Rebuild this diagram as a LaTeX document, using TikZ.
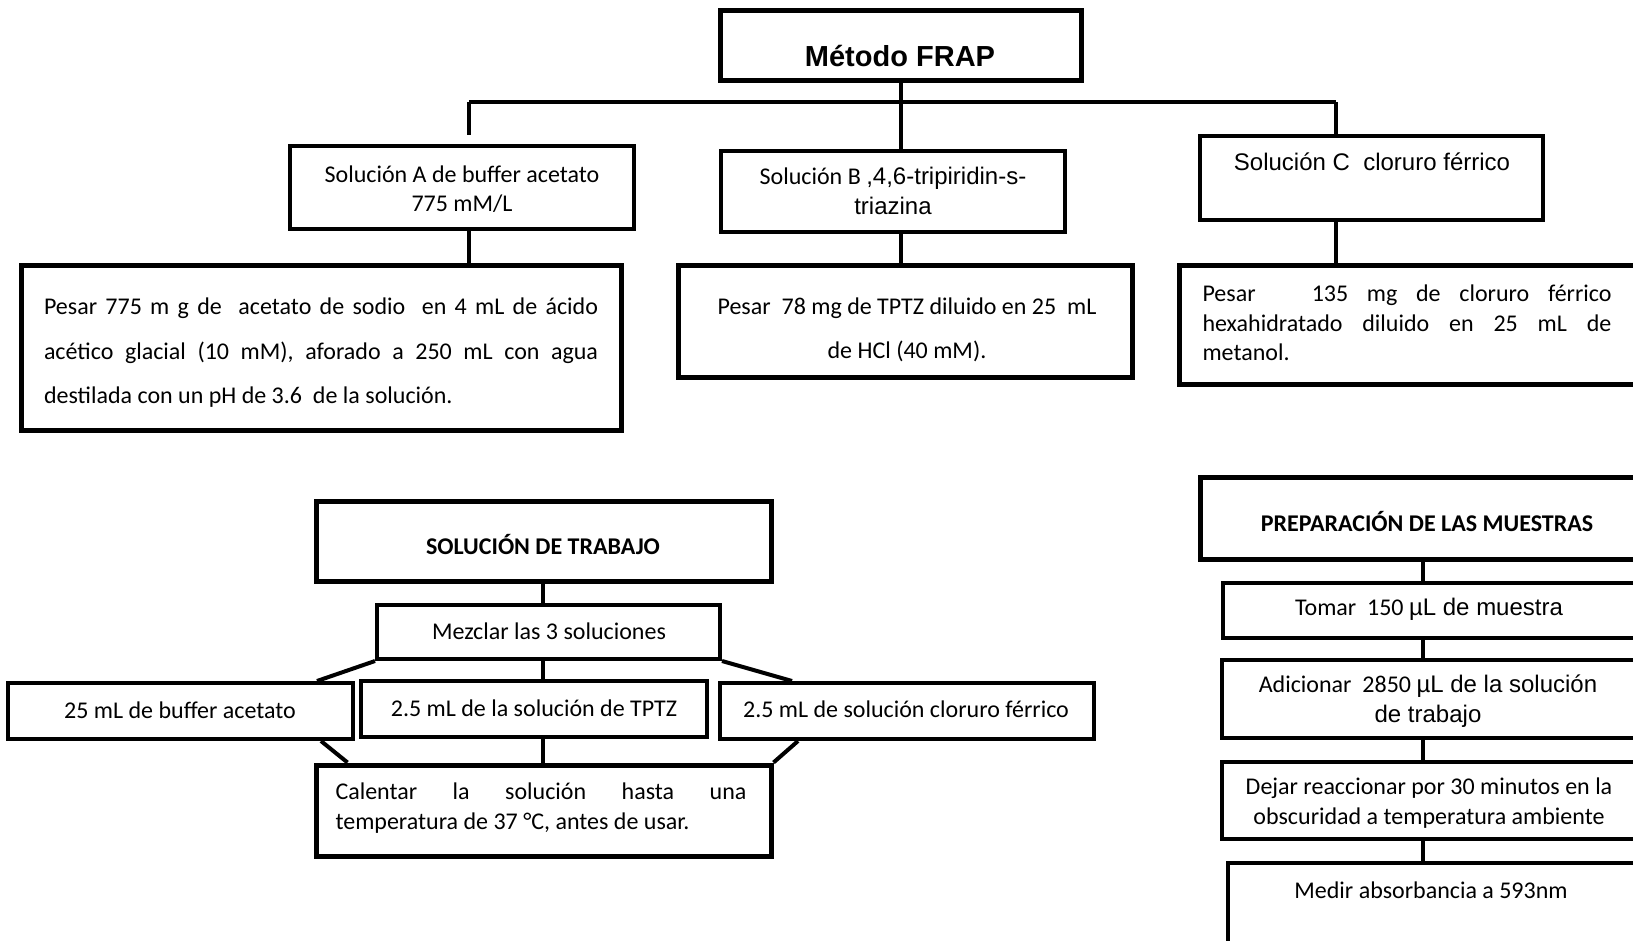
\documentclass[tikz,border=0pt]{standalone}
\usepackage{fontspec}
\setmainfont{Carlito}
\newfontfamily\arialf{Liberation Sans}
\usetikzlibrary{calc}

% an empty framed box given by its corner coordinates and frame width
\newcommand\mkbox[6]{%
  \node[frame=#6, minimum width={#4-#2}, minimum height={#5-#3}]
    (#1) at ({(#2+#4)/2},{(#3+#5)/2}) {};}

\begin{document}
\begin{tikzpicture}[x=1pt,y=-1pt,
  frame/.style={draw, line width=#1, inner sep=0pt, fill=white},
  link/.style={line width=4pt},
  txt/.style={inner sep=0pt, font=\fontsize{24}{29.3}\selectfont},
  atxt/.style={inner sep=0pt, font=\arialf\fontsize{24}{27.6}\selectfont},
  para/.style={txt, text width=#1, align=justify},
]
\clip (0,0) rectangle (1633,940);
\fill[white] (0,0) rectangle (1633,940);

% ---------- upper tree ----------
\coordinate (busL) at (469,102);
\coordinate (busR) at (1336,102);
\coordinate (stubA) at (469,135);

\mkbox{frap}{720}{10}{1081}{80}{5pt}
\mkbox{solA}{290}{146}{634}{229}{3.5pt}
\mkbox{solB}{721}{151}{1065}{232}{3.5pt}
\mkbox{solC}{1200}{136}{1543}{220}{3.5pt}
\mkbox{pesA}{21}{265}{621}{430}{5pt}
\mkbox{pesB}{678}{265}{1132}{377}{5pt}
\mkbox{pesC}{1179}{265}{1645}{384}{5pt}

\draw[link] (frap.south) -- (frap.south |- busL);
\draw[link] (busL) -- (busR);
\draw[link] (busL) -- (stubA);
\draw[link] (busR) -- (solC.north -| busR);
\draw[link] (frap.south |- busL) -- (solB.north -| frap.south);
\draw[link] (solA.south -| busL) -- (pesA.north -| busL);
\draw[link] (solB.south -| frap.south) -- (pesB.north -| frap.south);
\draw[link] (solC.south -| busR) -- (pesC.north -| busR);

\node[inner sep=0pt, font=\arialf\bfseries\fontsize{29}{33}\selectfont] (tfrap) at (900,56) {Método FRAP};
\node[txt, align=center] (tsolA) at (462,189) {Solución A de buffer acetato\\775 mM/L};
\node[txt, align=center] (tsolB) at (893,191) {Solución B {\arialf,4,6-tripiridin-s-}\\{\arialf triazina}};
\node[atxt] (tsolC) at (1372,162) {Solución C\ \ cloruro férrico};
\node[para=554pt, font=\fontsize{24}{44.5}\selectfont] (tpesA) at (321,353)
  {Pesar 775 m g de\ \ acetato de sodio\ \ en 4 mL de ácido\linebreak
   acético glacial (10 mM), aforado a 250 mL con agua\linebreak
   destilada con un pH de 3.6\ \ de la solución.};
\node[txt, align=center, font=\fontsize{24}{44.5}\selectfont] (tpesB) at (907,330)
  {Pesar\ \ 78 mg de TPTZ diluido en 25\ \ mL\\de HCl (40 mM).};
\node[para=409pt] (tpesC) at (1407,323)
  {Pesar\ \ \ 135 mg de cloruro férrico\linebreak
   hexahidratado diluido en 25 mL de\linebreak metanol.};

% ---------- working solution ----------
\mkbox{trab}{316}{501}{771}{581}{5pt}
\mkbox{mez}{377}{605}{720}{659}{4pt}
\mkbox{bA}{8}{683}{353}{739}{4pt}
\mkbox{bT}{361}{681}{707}{737}{4pt}
\mkbox{bC}{720}{683}{1094}{739}{4pt}
\mkbox{cal}{316}{765}{771}{856}{5pt}

\draw[link] (trab.south -| 543,0) -- (mez.north -| 543,0);
\draw[link] (mez.south west) -- ($(bA.north east)+(-38,0)$);
\draw[link] (mez.south -| 543,0) -- (bT.north -| 543,0);
\draw[link] (mez.south east) -- ($(bC.north west)+(74,0)$);
\draw[link] ($(bA.south east)+(-34,0)$) -- ($(cal.north west)+(34,0)$);
\draw[link] (bT.south -| 543,0) -- (cal.north -| 543,0);
\draw[link] ($(bC.south west)+(80,0)$) -- (cal.north east);

\node[txt, font=\bfseries\fontsize{24}{29}\selectfont] (ttrab) at (543,545) {SOLUCIÓN DE TRABAJO};
\node[txt] (tmez) at (549,631) {Mezclar las 3 soluciones};
\node[txt] (tbA) at (180,710) {25 mL de buffer acetato};
\node[txt] (tbT) at (534,708) {2.5 mL de la solución de TPTZ};
\node[txt] (tbC) at (906,709) {2.5 mL de solución cloruro férrico};
\node[para=411pt] (tcal) at (541,808)
  {Calentar la solución hasta una\linebreak temperatura de 37 °C, antes de usar.};

% ---------- sample preparation ----------
\mkbox{prep}{1200}{477}{1645}{559}{5pt}
\mkbox{tom}{1223}{583}{1645}{638}{4pt}
\mkbox{adi}{1222}{660}{1645}{738}{4pt}
\mkbox{dej}{1222}{762}{1645}{839}{4pt}
\mkbox{med}{1228}{863}{1645}{955}{4pt}

\draw[link] (prep.south -| 1423,0) -- (tom.north -| 1423,0);
\draw[link] (tom.south -| 1423,0) -- (adi.north -| 1423,0);
\draw[link] (adi.south -| 1423,0) -- (dej.north -| 1423,0);
\draw[link] (dej.south -| 1423,0) -- (med.north -| 1423,0);

\node[txt, font=\bfseries\fontsize{24}{29}\selectfont] (tprep) at (1427,522) {PREPARACIÓN DE LAS MUESTRAS};
\node[txt] (ttom) at (1429,609) {Tomar\ \ 150 {\arialf µL de muestra}};
\node[txt, align=center] (tadi) at (1428,701) {Adicionar\ \ 2850 {\arialf µL de la solución}\\{\arialf de trabajo}};
\node[txt, align=center] (tdej) at (1429,803) {Dejar reaccionar por 30 minutos en la\\obscuridad a temperatura ambiente};
\node[txt] (tmed) at (1431,890) {Medir absorbancia a 593nm};
\end{tikzpicture}
\end{document}
